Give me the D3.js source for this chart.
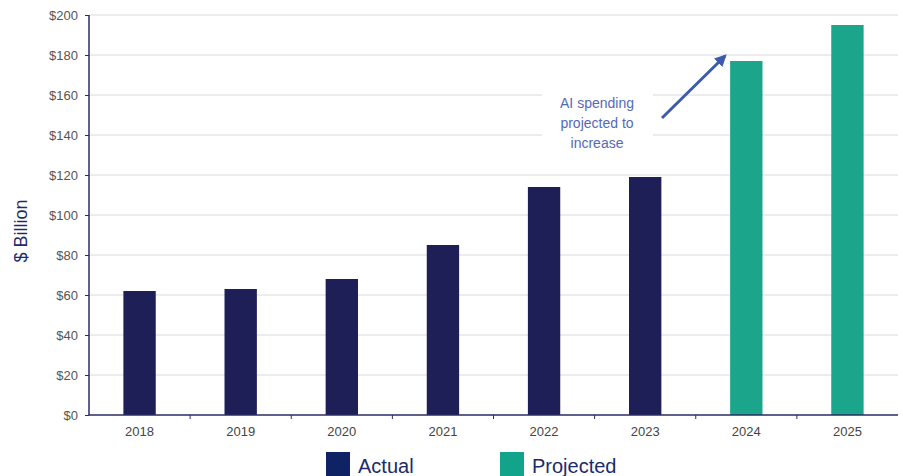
<!DOCTYPE html>
<html><head><meta charset="utf-8">
<script src="https://cdn.jsdelivr.net/npm/d3@7"></script>
<style>body{margin:0;background:#fff}svg{display:block}</style>
</head><body>
<svg id="c" width="903" height="476"></svg>
<script>
const years = ["2018","2019","2020","2021","2022","2023","2024","2025"];
const values = [62, 63, 68, 85, 114, 119, 177, 195];
const status = ["Actual","Actual","Actual","Actual","Actual","Actual","Projected","Projected"];
const yTicks = [0,20,40,60,80,100,120,140,160,180,200];
const legendLabels = ["Actual","Projected"];
const annotationLines = ["AI spending","projected to","increase"];

const svg = d3.select("#c");
const m = {l:89, r:898, t:15, b:415};
const x = d3.scaleBand().domain(years).range([m.l, m.r]).paddingInner(0.68).paddingOuter(0.34);
const y = d3.scaleLinear().domain([0,200]).range([m.b, m.t]);
const color = d3.scaleOrdinal().domain(legendLabels).range(["#1e1f57","#1ba68b"]);
const legendColor = d3.scaleOrdinal().domain(legendLabels).range(["#0f2263","#12a38b"]);
const font = "Liberation Sans, Arial, sans-serif";

// gridlines
svg.append("g").selectAll("line").data(yTicks.filter(d=>d>0)).join("line")
  .attr("x1", m.l).attr("x2", m.r).attr("y1", d=>y(d)).attr("y2", d=>y(d))
  .attr("stroke", "#d9d9d9").attr("stroke-width", 1);

// annotation white box hiding gridlines
svg.append("rect").attr("x", 542).attr("y", 88).attr("width", 111).attr("height", 66).attr("fill", "#fff");

// bars
svg.append("g").selectAll("rect").data(years).join("rect")
  .attr("x", d=>x(d)).attr("width", x.bandwidth())
  .attr("y", (d,i)=>y(values[i])).attr("height", (d,i)=>y(0)-y(values[i]))
  .attr("fill", (d,i)=>color(status[i]));

// y axis
const ya = svg.append("g").attr("transform", `translate(${m.l},0)`)
  .call(d3.axisLeft(y).tickValues(yTicks).tickSize(4).tickPadding(7).tickFormat(d=>"$"+d));
ya.select(".domain").attr("stroke", "#2b2b66").attr("stroke-width", 1.5).attr("d", `M0,${m.t}V${m.b}`);
ya.selectAll(".tick line").attr("stroke", "#2b2b66");
ya.selectAll("text").attr("fill", "#555").attr("font-family", font).attr("font-size", 13);

// x axis
const xa = svg.append("g").attr("transform", `translate(0,${m.b})`)
  .call(d3.axisBottom(x).tickSize(0).tickPadding(12));
xa.select(".domain").attr("stroke", "#2b2b66").attr("stroke-width", 1.5).attr("d", `M${m.l},0H${m.r}`);
xa.selectAll("text").attr("fill", "#444").attr("font-family", font).attr("font-size", 13);
// boundary ticks
const step = x.step();
svg.append("g").selectAll("line").data(years.slice(1)).join("line")
  .attr("x1", d=>x(d) - (step - x.bandwidth())/2).attr("x2", d=>x(d) - (step - x.bandwidth())/2)
  .attr("y1", m.b).attr("y2", m.b+4).attr("stroke", "#2b2b66");

// y axis title
svg.append("text").attr("transform", "translate(27,231) rotate(-90)")
  .attr("text-anchor", "middle").attr("fill", "#1c2a6e").attr("font-family", font).attr("font-size", 18)
  .text("$ Billion");

// annotation
svg.append("text").attr("text-anchor","middle").attr("fill","#5469b8").attr("font-family", font).attr("font-size", 14)
  .selectAll("tspan").data(annotationLines).join("tspan")
  .attr("x", 597).attr("y", (d,i)=>108 + i*20).text(d=>d);

svg.append("defs").append("marker").attr("id","ah").attr("viewBox","0 0 10 10").attr("refX",8).attr("refY",5)
  .attr("markerWidth",4).attr("markerHeight",4).attr("orient","auto")
  .append("path").attr("d","M0,0L10,5L0,10z").attr("fill","#3e5bab");
svg.append("line").attr("x1",662).attr("y1",118).attr("x2",725).attr("y2",56)
  .attr("stroke","#3e5bab").attr("stroke-width",3).attr("marker-end","url(#ah)");

// legend
const lg = svg.append("g").selectAll("g").data(legendLabels).join("g")
  .attr("transform", (d,i)=>`translate(${[326,500][i]},452)`);
lg.append("rect").attr("width", 24).attr("height", 24).attr("fill", d=>legendColor(d));
lg.append("text").attr("x", 32).attr("y", 21).attr("fill", "#1c2a6e").attr("font-family", font).attr("font-size", 20).text(d=>d);
</script>
</body></html>
